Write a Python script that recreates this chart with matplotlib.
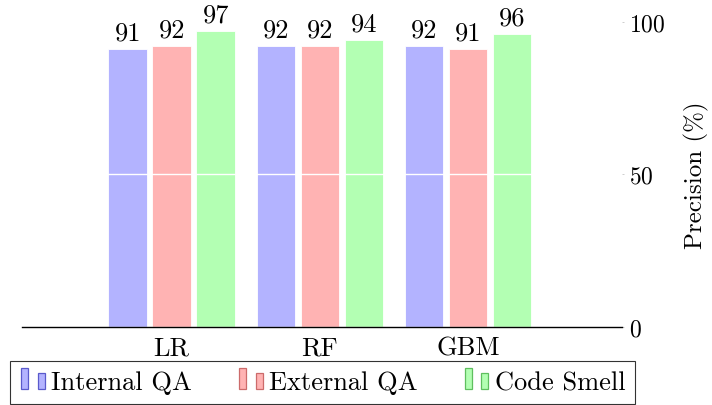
import matplotlib.pyplot as plt
import numpy as np
from matplotlib.legend_handler import HandlerBase
from matplotlib.patches import Rectangle

# Data
models = ['LR', 'RF', 'GBM']
internal_qa = [91, 92, 92]
external_qa = [92, 92, 91]
code_smell = [97, 94, 96]
series = ['Internal QA', 'External QA', 'Code Smell']
fills = ['#b3b3ff', '#ffb3b3', '#b3ffb3']
edges = ['#5a5acc', '#cc6b6b', '#5fbf5f']

plt.rcParams['font.family'] = 'cmr10'
plt.rcParams['axes.formatter.use_mathtext'] = True
plt.rcParams['mathtext.fontset'] = 'cm'
FS = 19


class TwoBarHandler(HandlerBase):
    # pgfplots-style ybar legend image: two small bars
    def create_artists(self, legend, orig, xd, yd, w, h, fontsize, trans):
        fc = orig.get_facecolor()
        ec = orig.get_edgecolor()
        bw = w * 0.28
        r1 = Rectangle((-xd + w * 0.06, -yd), bw, h * 1.15, facecolor=fc,
                       edgecolor=ec, lw=0.9, transform=trans)
        r2 = Rectangle((-xd + w * 0.72, -yd), bw, h * 0.88,
                       facecolor=fc, edgecolor=ec, lw=0.9, transform=trans)
        return [r1, r2]


fig = plt.figure(figsize=(7.12, 4.06), dpi=100)
ax = fig.add_axes([22 / 712, 78.5 / 406, 600 / 712, 305 / 406])

x = np.arange(len(models))
step = 0.297
width = 0.26
handles = []
for i, vals in enumerate([internal_qa, external_qa, code_smell]):
    bars = ax.bar(x + (i - 1) * step, vals, width, color=fills[i],
                  edgecolor='white', linewidth=0.6, zorder=1)
    for b, v in zip(bars, vals):
        ax.text(b.get_x() + b.get_width() / 2, v + 3.0, str(v),
                ha='center', va='baseline', fontsize=FS, clip_on=False)
    handles.append(Rectangle((0, 0), 1, 1, facecolor=fills[i],
                             edgecolor=edges[i]))

ax.set_xlim(-1.01, 3.04)
ax.set_ylim(0, 100)
ax.set_yticks([0, 50, 100])
ax.yaxis.tick_right()
ax.yaxis.set_label_position('right')
ax.set_ylabel('Precision (%)', fontsize=18, labelpad=13)
ax.set_xticks(x)
ax.set_xticklabels(models)
ax.tick_params(axis='x', length=0, pad=7, labelsize=FS)
ax.tick_params(axis='y', length=1.5, width=0.5, color='#bbbbbb', pad=3.5,
               labelsize=17)

ax.set_axisbelow(False)
ax.yaxis.grid(True, color='white', linewidth=1.0)
for s in ['top', 'left', 'right']:
    ax.spines[s].set_visible(False)
ax.spines['bottom'].set_linewidth(1.0)
ax.spines['bottom'].set_zorder(4)

leg = fig.legend(handles, series, ncol=3, loc='upper left',
                 bbox_to_anchor=(10 / 712, 44 / 406),
                 fontsize=FS, frameon=True, fancybox=False,
                 handler_map={Rectangle: TwoBarHandler()},
                 handlelength=0.95, handleheight=0.7, handletextpad=0.25,
                 columnspacing=1.72, borderpad=0.37, borderaxespad=0)
leg.get_frame().set_edgecolor('black')
leg.get_frame().set_linewidth(0.8)

fig.savefig('out.png', dpi=100)
